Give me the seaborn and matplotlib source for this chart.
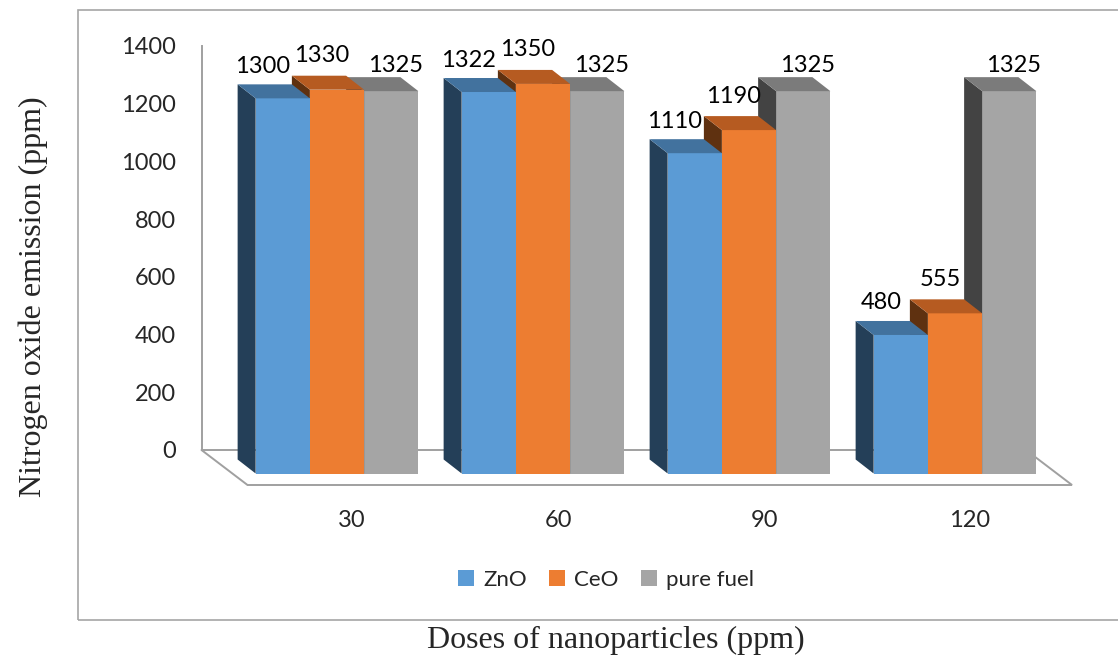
import numpy as np
import pandas as pd
import matplotlib
matplotlib.use("Agg")
import matplotlib.pyplot as plt
import seaborn as sns
from matplotlib.transforms import ScaledTranslation
from matplotlib.patches import Polygon, Rectangle

# ---------------- data ----------------
doses = ["30", "60", "90", "120"]
series = ["ZnO", "CeO", "pure fuel"]
zno = [1300, 1322, 1110, 480]
ceo = [1330, 1350, 1190, 555]
pure_fuel = [1325, 1325, 1325, 1325]
yticks = [0, 200, 400, 600, 800, 1000, 1200, 1400]

# ---------------- styles ----------------
front_colors = ["#5B9BD5", "#ED7D31", "#A5A5A5"]
top_colors = ["#42729E", "#B65B21", "#7B7B7B"]
side_colors = ["#243F58", "#5F3110", "#434343"]
line_gray = "#A0A0A0"

W, H, DPI = 1118, 659, 100
sns.set_theme(style="white")
plt.rcParams["font.family"] = ["Lato", "DejaVu Sans"]

df = pd.concat([
    pd.DataFrame({"dose": doses, "value": vals, "series": name})
    for name, vals in zip(series, [zno, ceo, pure_fuel])
], ignore_index=True)

fig = plt.figure(figsize=(W / DPI, H / DPI), dpi=DPI)
L, R, T, B = 190, 1090, 30, 500          # axes box in pixels
ax = fig.add_axes([L / W, 1 - B / H, (R - L) / W, (B - T) / H])

sns.barplot(data=df, x="dose", y="value", hue="series", order=doses,
            hue_order=series, palette=front_colors, width=0.79,
            saturation=1, edgecolor="none", linewidth=0, legend=False, ax=ax)

# scales: pixels per unit
sy = 404 / 1400.0          # px per ppm
sx = 206.0                 # px per category
x0_px = 337.0              # pixel of category 0 (front faces)
y0_px = 450.0              # pixel of value 0 on back wall
ax.set_xlim((L - x0_px) / sx, (R - x0_px) / sx)
ax.set_ylim(-(B - y0_px) / sy, (y0_px - T) / sy)


def off(dx_px, dy_px):
    """pixel offset, dy positive downward"""
    return ScaledTranslation(dx_px / DPI, -dy_px / DPI, fig.dpi_scale_trans)


front_shift = 23.5                       # front faces sit below the back wall
front_tr = ax.transData + off(0, front_shift)
dxd = -18 / sx                           # depth offset (towards the back)
dyd = 14 / sy

label_off = {0: (-20, 18), 1: (-15, 20), 2: (4, 12)}

# painter's order: right to left
n_series = len(series)
for gi in reversed(range(len(doses))):
    for si in reversed(range(n_series)):
        bars = sorted(ax.containers[si].patches, key=lambda p: p.get_x())
        p = bars[gi]
        z = 10 + (len(doses) - gi) * 10 + (n_series - si)
        x0 = p.get_x()
        w = p.get_width()
        v = p.get_height()
        p.set_transform(front_tr)
        p.set_zorder(z)
        side = Polygon([(x0, 0), (x0, v), (x0 + dxd, v + dyd), (x0 + dxd, dyd)],
                       closed=True, fc=side_colors[si], ec="none",
                       transform=front_tr, zorder=z)
        top = Polygon([(x0, v), (x0 + w, v), (x0 + w + dxd, v + dyd), (x0 + dxd, v + dyd)],
                      closed=True, fc=top_colors[si], ec="none",
                      transform=front_tr, zorder=z)
        ax.add_patch(side)
        ax.add_patch(top)
        lx, ly = label_off[si]
        ax.text(x0 + w / 2, v, f"{v:g}", ha="center", va="center",
                fontsize=17, color="black",
                transform=ax.transData + off(lx, front_shift - 14 - ly),
                zorder=200)

# back wall / floor
x_wall = (201.5 - x0_px) / sx
x_wall_r = (1026 - x0_px) / sx
fdx, fdy = 46 / sx, -35 / sy
ax.plot([x_wall, x_wall_r], [0, 0], color=line_gray, lw=1.4, zorder=2,
        solid_capstyle="butt")
ax.plot([x_wall, x_wall + fdx, x_wall_r + fdx, x_wall_r],
        [0, fdy, fdy, 0], color=line_gray, lw=1.4, zorder=2,
        solid_joinstyle="miter")

for s in ["top", "right", "bottom"]:
    ax.spines[s].set_visible(False)
ax.spines["left"].set_position(("data", x_wall))
ax.spines["left"].set_bounds(0, 1400)
ax.spines["left"].set_color(line_gray)
ax.spines["left"].set_linewidth(1.4)

ax.set_yticks(yticks)
ax.set_yticklabels([str(t) for t in yticks])
ax.set_xticks(np.arange(len(doses)) + 15 / sx)
ax.set_xticklabels(doses)
ax.tick_params(axis="y", length=0, pad=25.5 * 72 / DPI, labelsize=17)
ax.tick_params(axis="x", length=0, pad=10 * 72 / DPI, labelsize=17)
ax.set_xlabel("")
ax.set_ylabel("")
ax.grid(False)
ax.patch.set_alpha(0)

# legend
handles = [Rectangle((0, 0), 1, 1, fc=c, ec="none") for c in front_colors]
fig.legend(handles, series, loc="center", bbox_to_anchor=(606 / W, 1 - 580 / H),
           ncol=3, frameon=False, fontsize=16, handlelength=0.72,
           handleheight=0.72, handletextpad=0.4, columnspacing=1.0)

# outer chart box
fig.add_artist(Rectangle((78 / W, 1 - 620 / H), (1130 - 78) / W, (620 - 10) / H,
                         transform=fig.transFigure, fill=False,
                         ec="#A6A6A6", lw=1.2))

# axis titles
fig.text(33 / W, 1 - 297 / H, "Nitrogen oxide emission (ppm)", rotation=90,
         ha="center", va="center", fontsize=23, family="Liberation Serif")
fig.text(616 / W, 1 - 640 / H, "Doses of nanoparticles (ppm)",
         ha="center", va="center", fontsize=23, family="Liberation Serif")

fig.savefig("out.png", dpi=DPI)
